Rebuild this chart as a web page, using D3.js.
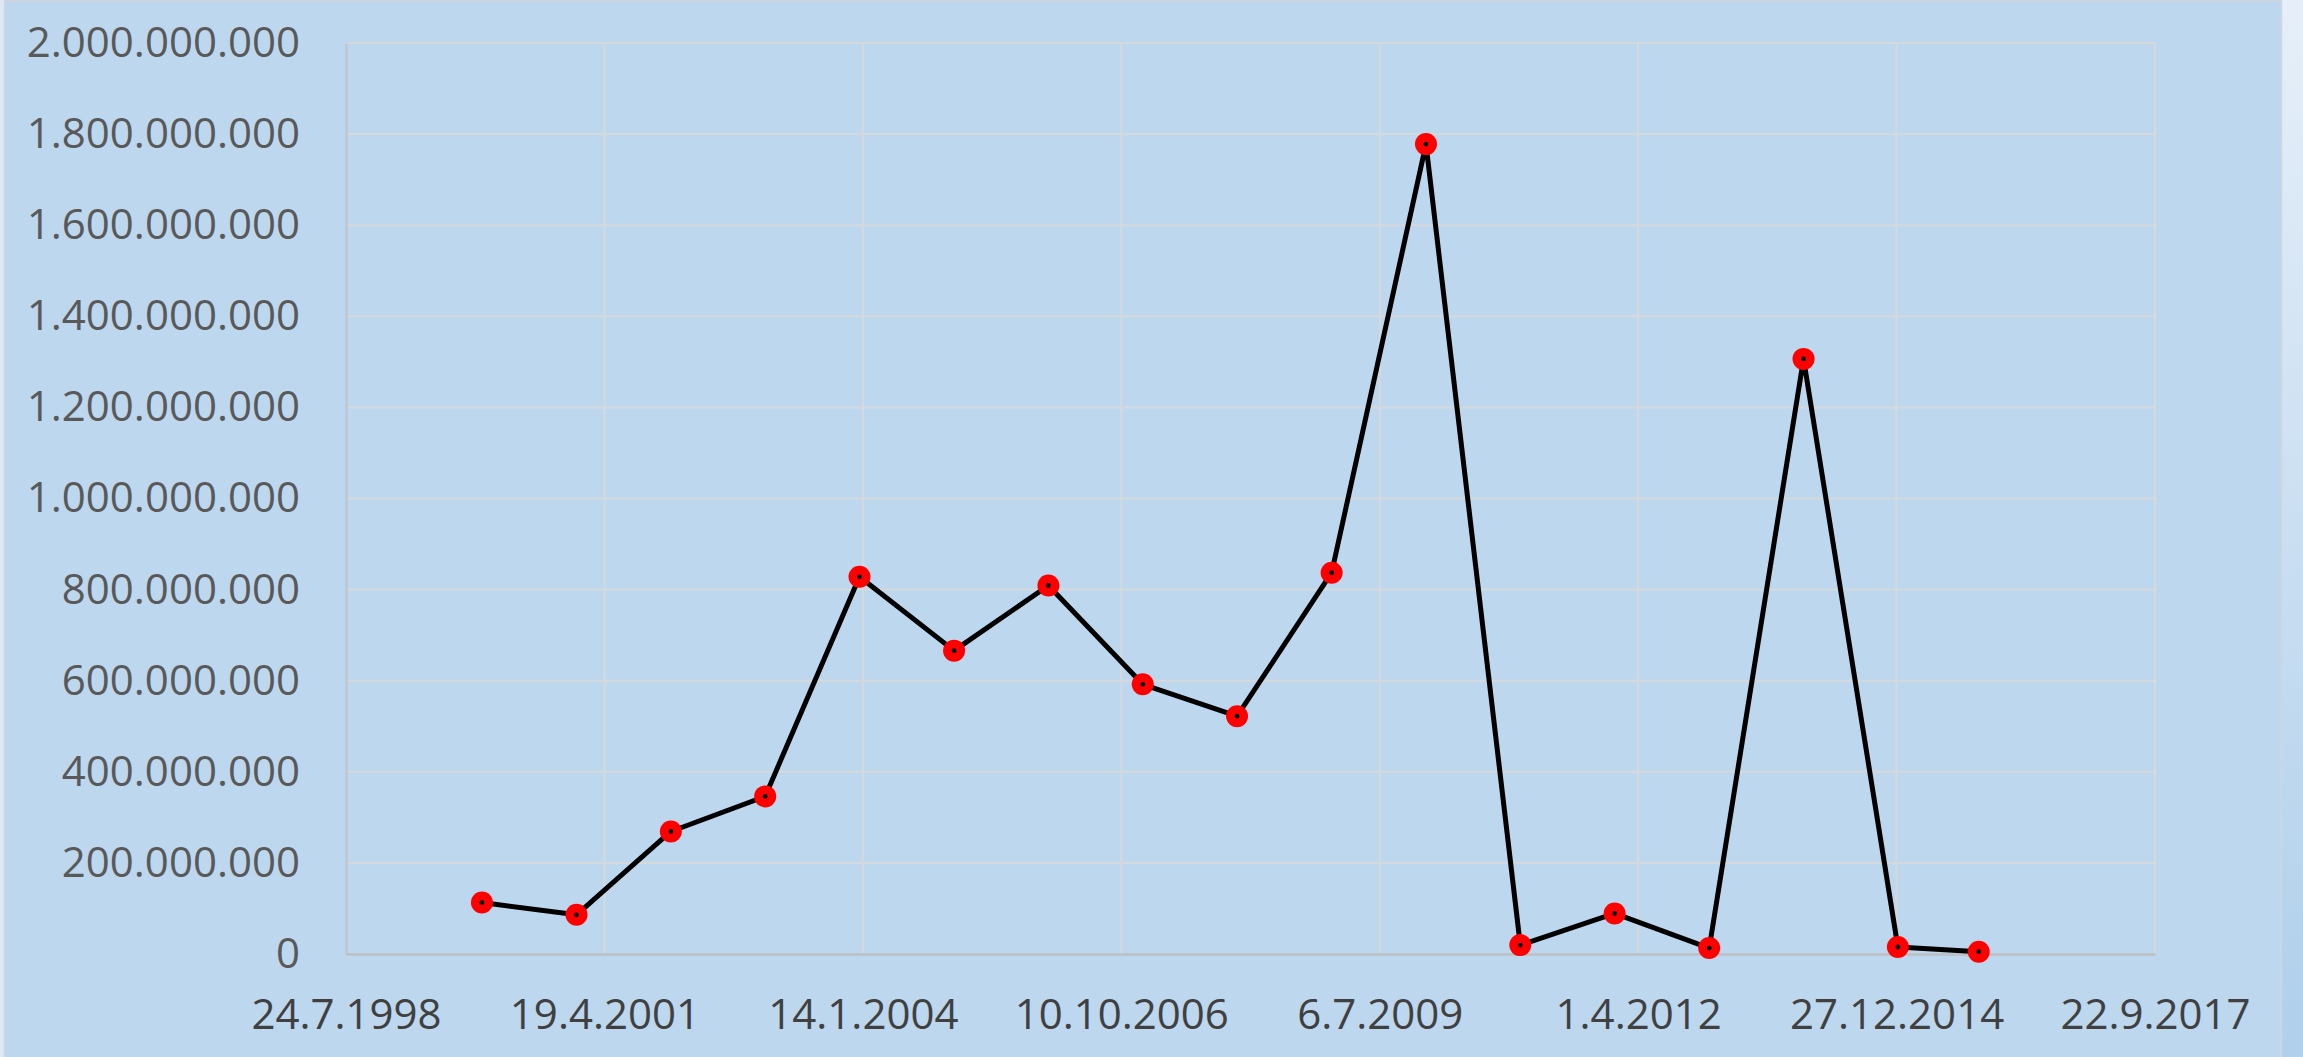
<!DOCTYPE html>
<html>
<head>
<meta charset="utf-8">
<script src="https://cdn.jsdelivr.net/npm/d3@7"></script>
<style>
  html, body { margin: 0; padding: 0; background: #bdd7ee; overflow: hidden; }
  svg { display: block; }
  .y-label { fill: #595959; font-size: 42px; font-family: "Open Sans", sans-serif; }
  .x-label { fill: #404040; font-size: 42px; font-family: "Open Sans", sans-serif; }
</style>
</head>
<body>
<svg id="chart"></svg>
<script>
const WIDTH = 2303;
const HEIGHT = 1057;

// one point per year, the last one is the partial year 2015
const DATES = [
  "2000-01-01", "2001-01-01", "2002-01-01", "2003-01-01", "2004-01-01",
  "2005-01-01", "2006-01-01", "2007-01-01", "2008-01-01", "2009-01-01",
  "2010-01-01", "2011-01-01", "2012-01-01", "2013-01-01", "2014-01-01",
  "2015-01-01", "2015-11-10"
];
const VALUES = [
  113000000, 86000000, 269000000, 346000000, 828000000,
  666000000, 809000000, 592000000, 522000000, 837000000,
  1778000000, 19500000, 89000000, 13000000, 1306500000,
  15400000, 5000000
];
const X_TICKS = [
  "1998-07-24", "2001-04-19", "2004-01-14", "2006-10-10",
  "2009-07-06", "2012-04-01", "2014-12-27", "2017-09-22"
];
const Y_TICKS = [
  0, 200000000, 400000000, 600000000, 800000000, 1000000000,
  1200000000, 1400000000, 1600000000, 1800000000, 2000000000
];

const margin = { top: 43, right: WIDTH - 2155, bottom: HEIGHT - 954, left: 346 };

const parseDate = d3.utcParse("%Y-%m-%d");
const formatTick = d3.utcFormat("%-d.%-m.%Y");
const locale = d3.formatLocale({ decimal: ",", thousands: ".", grouping: [3], currency: ["", ""] });
const formatValue = locale.format(",.0f");

const points = DATES.map((d, i) => ({ date: parseDate(d), value: VALUES[i] }));
const xTicks = X_TICKS.map(parseDate);

const svg = d3.select("#chart").attr("width", WIDTH).attr("height", HEIGHT);

// background: chart area plus the light strips around it
const bg = svg.append("defs").append("linearGradient")
  .attr("id", "edge-grad").attr("x1", 0).attr("y1", 0).attr("x2", 0).attr("y2", 1);
bg.append("stop").attr("offset", "0%").attr("stop-color", "#e6eff9");
bg.append("stop").attr("offset", "100%").attr("stop-color", "#afcfeb");

svg.append("rect").attr("width", WIDTH).attr("height", HEIGHT).attr("fill", "#bdd7ee");
svg.append("rect").attr("x", 2282).attr("y", 0).attr("width", WIDTH - 2282).attr("height", HEIGHT)
  .attr("fill", "url(#edge-grad)");
svg.append("rect").attr("x", 0).attr("y", 0).attr("width", 4).attr("height", HEIGHT).attr("fill", "#dce8f4");
svg.append("rect").attr("x", 4.5).attr("y", 1).attr("width", 2277).attr("height", HEIGHT + 5)
  .attr("fill", "none").attr("stroke", "#d0d6dc").attr("stroke-width", 1.5);

const x = d3.scaleUtc()
  .domain([xTicks[0], xTicks[xTicks.length - 1]])
  .range([margin.left, WIDTH - margin.right]);

const y = d3.scaleLinear()
  .domain([0, 2000000000])
  .range([HEIGHT - margin.bottom, margin.top]);

// gridlines
const grid = svg.append("g").attr("class", "grid");
grid.selectAll("line.h")
  .data(Y_TICKS.filter((d) => d > 0))
  .join("line")
  .attr("class", "h")
  .attr("x1", margin.left).attr("x2", WIDTH - margin.right)
  .attr("y1", (d) => y(d)).attr("y2", (d) => y(d))
  .attr("stroke", "#d6d9dc").attr("stroke-width", 2);

grid.selectAll("line.v")
  .data(xTicks.slice(1))
  .join("line")
  .attr("class", "v")
  .attr("x1", (d) => x(d)).attr("x2", (d) => x(d))
  .attr("y1", margin.top).attr("y2", HEIGHT - margin.bottom)
  .attr("stroke", "#d6d9dc").attr("stroke-width", 2);

// axes
const yAxis = svg.append("g")
  .attr("transform", `translate(${margin.left},0)`)
  .call(d3.axisLeft(y).tickValues(Y_TICKS).tickFormat(formatValue).tickSize(0).tickPadding(46));
yAxis.attr("font-family", null).attr("font-size", null);
yAxis.select(".domain").attr("stroke", "#c0c4c8").attr("stroke-width", 2);
yAxis.selectAll("text").attr("class", "y-label").attr("fill", null);

const xAxis = svg.append("g")
  .attr("transform", `translate(0,${HEIGHT - margin.bottom})`)
  .call(d3.axisBottom(x).tickValues(xTicks).tickFormat(formatTick).tickSize(0).tickPadding(45));
xAxis.attr("font-family", null).attr("font-size", null);
xAxis.select(".domain").attr("stroke", "#bcbfc3").attr("stroke-width", 2.5);
xAxis.selectAll("text").attr("class", "x-label").attr("fill", null);

// series
const line = d3.line()
  .x((d) => x(d.date))
  .y((d) => y(d.value));

svg.append("path")
  .datum(points)
  .attr("fill", "none")
  .attr("stroke", "#000000")
  .attr("stroke-width", 5)
  .attr("stroke-linejoin", "round")
  .attr("d", line);

const markers = svg.append("g").selectAll("g")
  .data(points)
  .join("g")
  .attr("transform", (d) => `translate(${x(d.date)},${y(d.value)})`);

markers.append("circle").attr("r", 11).attr("fill", "#ff0000");
markers.append("circle").attr("r", 2.4).attr("fill", "#000000");
</script>
</body>
</html>
